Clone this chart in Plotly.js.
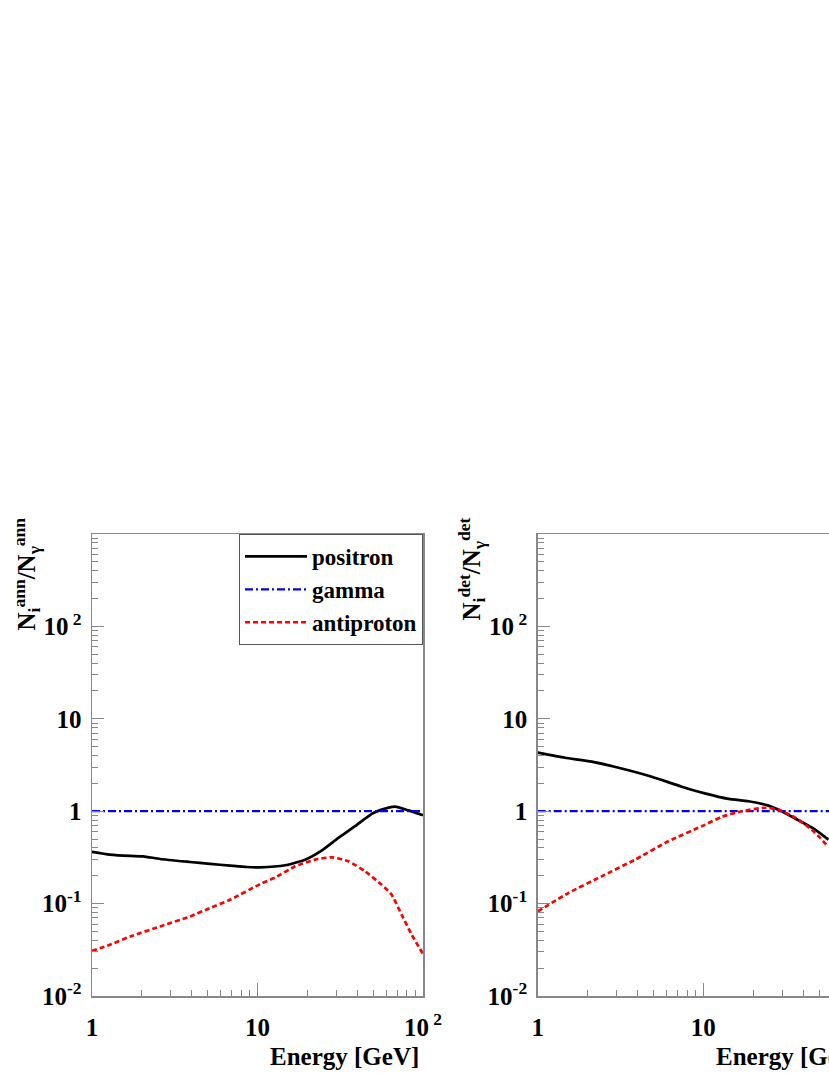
<!DOCTYPE html>
<html>
<head>
<meta charset="utf-8">
<script src="https://cdn.plot.ly/plotly-3.0.1.min.js"></script>
<style>
  body { margin: 0; overflow: hidden; background: #fff; }
</style>
</head>
<body>
<div id="plot" style="width:900px;height:1073px;"></div>
<script>
// Left panel: ratio at annihilation
var annPositronE = [1, 1.28, 1.7, 2.04, 2.58, 3.91, 5.16, 6.82, 8.6, 10.4, 14.7, 19.4, 24.4, 30.8, 38.8, 49, 56.3, 67.7, 81.5, 100];
var annPositron = [0.363, 0.339, 0.328, 0.325, 0.304, 0.282, 0.269, 0.258, 0.249, 0.247, 0.26, 0.299, 0.375, 0.514, 0.688, 0.937, 1.04, 1.12, 1.02, 0.905];
var annPbarE = [1, 1.28, 1.7, 2.58, 3.91, 5.16, 6.82, 10.4, 12.8, 16.9, 22.3, 28.1, 35.4, 44.6, 56.3, 64.6, 74.3, 85.5, 100];
var annPbar = [0.0308, 0.0358, 0.044, 0.0566, 0.0726, 0.0895, 0.110, 0.163, 0.192, 0.253, 0.299, 0.317, 0.287, 0.224, 0.160, 0.125, 0.076, 0.046, 0.0285];

// Right panel: ratio at detection
var detPositronE = [1, 1.46, 2.12, 3.21, 4.88, 7.41, 10.2, 14.2, 18.7, 24.7, 29.7, 37.5, 47.3, 56.9];
var detPositron = [4.30, 3.79, 3.44, 2.90, 2.36, 1.84, 1.56, 1.36, 1.28, 1.15, 1.0, 0.798, 0.633, 0.493];
var detPbarE = [1, 1.53, 2.43, 3.87, 6.15, 9.78, 12.9, 17.1, 23.6, 28.4, 37.5, 47.3, 56.9];
var detPbar = [0.0823, 0.130, 0.197, 0.299, 0.473, 0.687, 0.869, 1.0, 1.09, 1.04, 0.813, 0.583, 0.411];

// gamma is the reference, so its ratio is 1
var gammaE = [1, 100];
var gamma = [1, 1];

var yTickVals = [0.01, 0.1, 1, 10, 100];
var yTickText = ["10<sup>-2</sup>", "10<sup>-1</sup>", "1", "10", "10<sup> 2</sup>"];
var xTickVals = [1, 10, 100];
var xTickText = ["1", "10", "10<sup> 2</sup>"];

// minor ticks 2..9 per decade
var yMinor = [];
for (var k = -2; k <= 2; k++) for (var m = 2; m <= 9; m++) yMinor.push(m * Math.pow(10, k));
var xMinor = [];
for (var k = 0; k <= 1; k++) for (var m = 2; m <= 9; m++) xMinor.push(m * Math.pow(10, k));

var W = 900, H = 1073;
var serif = "Liberation Serif, Times New Roman, serif";

var solid = {color: "black", width: 2.7};
var dashdot = {color: "blue", width: 2.2, dash: "8px,3px,2px,3px"};
var dashed = {color: "red", width: 2.7, dash: "5px,3px"};

var data = [
  {x: annPositronE, y: annPositron, name: "positron", mode: "lines", line: solid, xaxis: "x", yaxis: "y"},
  {x: gammaE, y: gamma, name: "gamma", mode: "lines", line: dashdot, xaxis: "x", yaxis: "y"},
  {x: annPbarE, y: annPbar, name: "antiproton", mode: "lines", line: dashed, xaxis: "x", yaxis: "y"},
  {x: detPositronE, y: detPositron, mode: "lines", line: solid, showlegend: false, xaxis: "x2", yaxis: "y2"},
  {x: gammaE, y: gamma, mode: "lines", line: dashdot, showlegend: false, xaxis: "x2", yaxis: "y2"},
  {x: detPbarE, y: detPbar, mode: "lines", line: dashed, showlegend: false, xaxis: "x2", yaxis: "y2"}
];
data.forEach(function (t) { t.line.shape = "spline"; t.line.smoothing = 0.5; });

var tickFont = {family: serif, size: 25, color: "black", weight: "bold"};

function xAxis(left, right, anchor) {
  return {
    type: "log", range: [0, 2], domain: [left / W, right / W], anchor: anchor,
    showgrid: false, zeroline: false,
    showline: true, linecolor: "#888", linewidth: 1.5, mirror: true,
    ticks: "inside", ticklen: 13, tickcolor: "#888", tickwidth: 1,
    tickmode: "array", tickvals: xTickVals, ticktext: xTickText,
    tickfont: tickFont, ticklabelstandoff: 8,
    minor: {tickvals: xMinor, ticklen: 6, tickcolor: "#888", tickwidth: 1, ticks: "inside", showgrid: false}
  };
}
function yAxis(anchor) {
  return {
    type: "log", range: [-2, 3], domain: [1 - 996 / H, 1 - 534 / H], anchor: anchor,
    showgrid: false, zeroline: false,
    showline: true, linecolor: "#888", linewidth: 1.5, mirror: true,
    ticks: "inside", ticklen: 12, tickcolor: "#888", tickwidth: 1,
    tickmode: "array", tickvals: yTickVals, ticktext: yTickText,
    tickfont: tickFont, ticklabelstandoff: 4,
    minor: {tickvals: yMinor, ticklen: 6, tickcolor: "#888", tickwidth: 1, ticks: "inside", showgrid: false}
  };
}

var titleFont = {family: serif, size: 25, color: "black", weight: "bold"};

var layout = {
  width: W, height: H,
  margin: {l: 0, r: 0, t: 0, b: 0},
  paper_bgcolor: "white", plot_bgcolor: "white",
  xaxis: xAxis(92, 423, "y"),
  yaxis: yAxis("x"),
  xaxis2: xAxis(537.7, 869, "y2"),
  yaxis2: yAxis("x2"),
  legend: {
    x: 423 / W, xanchor: "right", y: 1 - 534 / H, yanchor: "top",
    bgcolor: "white", bordercolor: "#555", borderwidth: 1,
    font: {family: serif, size: 23, color: "black", weight: "bold"},
    itemwidth: 62, tracegroupgap: 0
  },
  annotations: [
    {text: "Energy [GeV]", xref: "paper", yref: "paper", x: 421 / W, y: 1 - 1056 / H,
     xanchor: "right", yanchor: "middle", showarrow: false, font: titleFont},
    {text: "Energy [GeV]", xref: "paper", yref: "paper", x: 867 / W, y: 1 - 1056 / H,
     xanchor: "right", yanchor: "middle", showarrow: false, font: titleFont},
    {text: "N<sub>i</sub><sup>ann</sup>/N<sub>γ</sub><sup>ann</sup>", xref: "paper", yref: "paper",
     x: 27 / W, y: 1 - 516 / H, xanchor: "center", yanchor: "top", textangle: -90,
     showarrow: false, font: titleFont},
    {text: "N<sub>i</sub><sup>det</sup>/N<sub>γ</sub><sup>det</sup>", xref: "paper", yref: "paper",
     x: 472 / W, y: 1 - 516 / H, xanchor: "center", yanchor: "top", textangle: -90,
     showarrow: false, font: titleFont}
  ]
};

Plotly.newPlot("plot", data, layout, {staticPlot: true});
</script>
</body>
</html>
